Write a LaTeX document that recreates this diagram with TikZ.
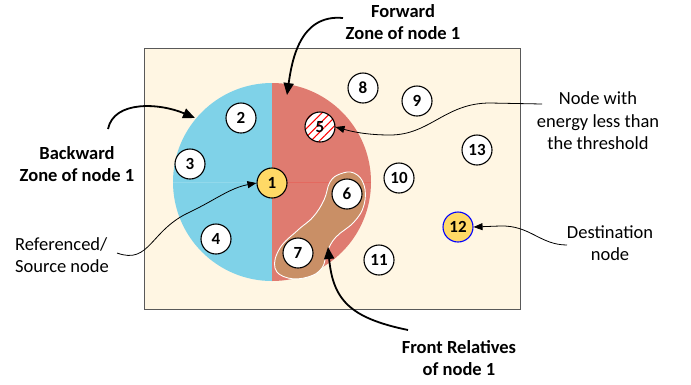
\documentclass[tikz,border=0pt]{standalone}
\usepackage{fontspec}
\setmainfont{Carlito}
\usetikzlibrary{arrows.meta,patterns.meta}
\definecolor{backzone}{HTML}{7FD2E8}
\definecolor{frontzone}{HTML}{DF7B70}
\definecolor{field}{HTML}{FFF6E3}
\definecolor{relatives}{HTML}{C98F66}
\definecolor{gold}{HTML}{FFD966}
\definecolor{frame}{HTML}{595959}

\begin{document}
\begin{tikzpicture}[x=1pt, y=-1pt,
        sensor/.style={draw, circle, fill=white, minimum size=30pt, inner sep=0pt, line width=1.1pt, font=\fontsize{17}{17}\selectfont\bfseries},
        label/.style={align=center, inner sep=0pt, font=\fontsize{18.5}{22.5}\selectfont},
        boldlabel/.style={label, font=\fontsize{18.5}{22.5}\selectfont\bfseries},
        bigarrow/.style={-{Triangle[length=12pt, width=10pt]}, line width=1.8pt},
        thinarrow/.style={-{Triangle[length=9pt, width=7pt]}, line width=0.8pt}]
        \useasboundingbox (0,0) rectangle (691,384);
        \draw[frame, fill=field, line width=1pt] (144,48) rectangle (520,309);
        \fill[backzone] (272,83) arc[start angle=90, end angle=270, radius=99pt] -- cycle;
        \fill[frontzone] (272,83) arc[start angle=90, end angle=-90, radius=99pt] -- cycle;
        \draw[backzone!85!white, line width=0.5pt] (173,182) -- (272,182);
        \draw[frontzone!85!red, line width=0.5pt] (272,182) -- (371,182);
        \draw[white, fill=relatives, line width=0.9pt] plot[smooth cycle, tension=0.7] coordinates {
                (354,173) (364,185) (364,205) (354,222) (336,237) (327,252) (322,268) (308,277)
                (288,278) (275,268) (280,248) (298,230) (313,217) (324,200) (330,182) (340,174)};

        \node[sensor, fill=gold] (n1) at (272,183) {1};
        \node[sensor] (n2) at (241,118) {2};
        \node[sensor] (n3) at (190,164) {3};
        \node[sensor] (n4) at (216,239) {4};
        \node[sensor, preaction={fill=white}, pattern={Lines[angle=45, distance=6pt, line width=1pt]}, pattern color=red] (n5) at (320,127) {5};
        \node[sensor] (n6) at (347,194) {6};
        \node[sensor] (n7) at (298,253) {7};
        \node[sensor] (n8) at (363,88) {8};
        \node[sensor] (n9) at (417,101) {9};
        \node[sensor] (n10) at (399,178) {10};
        \node[sensor] (n11) at (379,260) {11};
        \node[sensor, fill=gold, draw=blue] (n12) at (458,227) {12};
        \node[sensor] (n13) at (477,150) {13};

        \node[boldlabel] (forward) at (403,22) {Forward\\Zone of node 1};
        \node[boldlabel] (backward) at (77,164) {Backward\\Zone of node 1};
        \node[label, align=left] (source) at (62,255) {Referenced/\\Source node};
        \node[label] (lowenergy) at (598,121) {Node with\\energy less than\\the threshold};
        \node[label] (destination) at (610,243) {Destination\\node};
        \node[boldlabel] (relatives) at (459,358) {Front Relatives\\of node 1};

        \coordinate (fwdstart) at (343,18);
        \coordinate (fwdzone) at (287,95);
        \coordinate (bwdstart) at (108,129);
        \coordinate (bwdzone) at (195,118);
        \coordinate (srcstart) at (117,253);
        \coordinate (lowstart) at (542,104);
        \coordinate (deststart) at (567,245);
        \coordinate (relstart) at (408,330);
        \coordinate (relblob) at (328,247);

        \draw[bigarrow] (fwdstart) .. controls (300,14) and (292,60) .. (fwdzone);
        \draw[bigarrow] (bwdstart) .. controls (114,100) and (160,103) .. (bwdzone);
        \draw[bigarrow] (relstart) .. controls (350,318) and (333,300) .. (relblob);
        \draw[thinarrow] (srcstart) .. controls (150,265) and (150,230) .. (190,212)
                .. controls (215,200) and (230,188) .. (n1.west);
        \draw[thinarrow] (lowstart) -- (490,103) .. controls (445,103) and (430,135) .. (390,135)
                .. controls (365,135) and (350,131) .. (n5.east);
        \draw[thinarrow] (deststart) .. controls (540,245) and (530,225) .. (500,226) -- (n12.east);
\end{tikzpicture}
\end{document}
